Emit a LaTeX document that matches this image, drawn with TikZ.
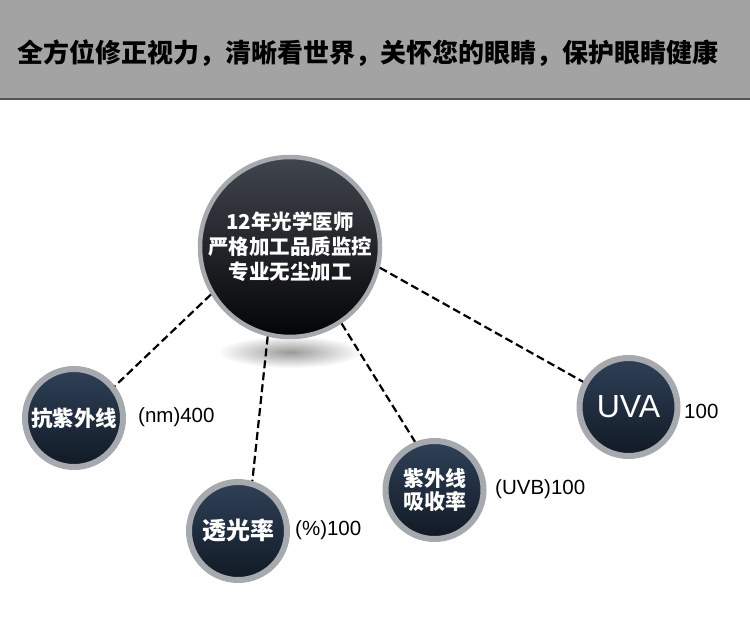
\documentclass[tikz,border=0pt]{standalone}
\usepackage{fontspec}
\setmainfont{Liberation Sans}
\newfontfamily\cjk{Noto Sans CJK SC}
\definecolor{hdr}{HTML}{A3A3A3}
\definecolor{hdrline}{HTML}{555555}
\definecolor{ring}{HTML}{A6A9AD}
\definecolor{maintop}{HTML}{41464E}
\definecolor{mainbot}{HTML}{030405}
\definecolor{smtop}{HTML}{2F4057}
\definecolor{smbot}{HTML}{111A25}
\tikzset{
  mainball/.style={circle, inner sep=0pt, minimum size=180pt, draw=ring, line width=4.5pt,
    top color=maintop, bottom color=mainbot, text=white, align=center,
    font=\cjk\bfseries\fontsize{20.5}{25}\selectfont},
  smallball/.style={circle, inner sep=0pt, minimum size=98pt, draw=ring, line width=6pt,
    top color=smtop, bottom color=smbot, text=white, align=center,
    font=\cjk\bfseries\fontsize{21}{22.5}\selectfont},
  sidelbl/.style={anchor=west, inner sep=0pt, font=\fontsize{20.5}{22}\selectfont, text=black},
  link/.style={draw=black, line width=2.2pt, dash pattern=on 8pt off 4pt}
}
\begin{document}
\begin{tikzpicture}[x=1pt,y=-1pt]
\useasboundingbox (0,0) rectangle (750,631);
\fill[white] (0,0) rectangle (750,631);
% header
\fill[hdr] (0,0) rectangle (750,98);
\fill[hdrline] (0,98) rectangle (750,100.5);
\node[inner sep=0pt, font=\cjk\bfseries\fontsize{26}{28}\selectfont, text=black] (title) at (368,53)
  {全方位修正视力，清晰看世界，关怀您的眼睛，保护眼睛健康};
% shadow under main ball
\shade[inner color=black!40, outer color=white] (290,352) ellipse (72 and 16);
% main ball
\node[mainball] (main) at (290,247) {12年光学医师\\严格加工品质监控\\专业无尘加工};
% small balls
\node[smallball, font=\cjk\bfseries\fontsize{21.5}{24}\selectfont] (s1) at (74,418) {抗紫外线};
\node[smallball, font=\cjk\bfseries\fontsize{24}{26}\selectfont] (s2) at (238,531) {透光率};
\node[smallball] (s3) at (434.5,490) {紫外线\\吸收率};
\node[smallball, font=\fontsize{32}{34}\selectfont] (s4) at (628.5,407) {UVA};
% labels
\node[sidelbl] (l1) at (138,417) {(nm)400};
\node[sidelbl] (l2) at (295,530) {(\%)100};
\node[sidelbl] (l3) at (495,489) {(UVB)100};
\node[sidelbl] (l4) at (684,411) {100};
% connectors
\draw[link] (main.211) -- (s1.38);
\draw[link] (main.256) -- (s2.74);
\draw[link] (main.304.5) -- (s3.112);
\draw[link] (main.347.5) -- (s4.151);
\end{tikzpicture}
\end{document}
